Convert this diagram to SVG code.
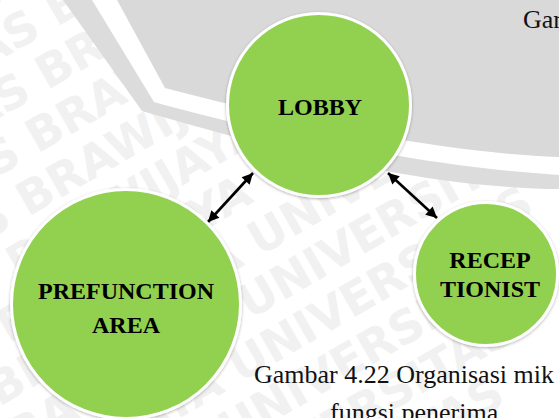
<svg xmlns="http://www.w3.org/2000/svg" width="559" height="418" viewBox="0 0 559 418">
  <style>
    .wm { font-family: "DejaVu Sans", "Liberation Sans", sans-serif; font-weight: bold; font-size: 46px; fill: #f1f1f1; }
    .node { fill: #92d050; stroke: #ffffff; stroke-width: 3; filter: url(#shadow); }
    .label { font-family: "Liberation Serif", "Times New Roman", serif; font-weight: bold; font-size: 24px; fill: #000; text-anchor: middle; }
    .caption { font-family: "Liberation Serif", "Times New Roman", serif; font-size: 26px; fill: #111; }
    .link { stroke: #000; stroke-width: 2.6; fill: none; marker-start: url(#head); marker-end: url(#head); }
  </style>
  <defs>
    <filter id="shadow" x="-10%" y="-10%" width="120%" height="120%">
      <feDropShadow dx="0" dy="1" stdDeviation="1.5" flood-color="#000" flood-opacity="0.3"/>
    </filter>
    <marker id="head" viewBox="0 0 10 10" refX="10" refY="5" markerWidth="4.6" markerHeight="4.2" orient="auto-start-reverse" markerUnits="strokeWidth">
      <path d="M0,0 L10,5 L0,10 Z" fill="#000"/>
    </marker>
  </defs>

  <rect width="559" height="418" fill="#ffffff"/>

  <!-- background watermark lettering -->
  <g id="watermark" transform="rotate(-30 280 210)">
    <text class="wm" x="-140" y="-110">UNIVERSITAS BRAWIJAYA UNIVERSITAS</text>
    <text class="wm" x="-180" y="-60">UNIVERSITAS BRAWIJAYA UNIVERSITAS</text>
    <text class="wm" x="-220" y="-10">UNIVERSITAS BRAWIJAYA UNIVERSITAS</text>
    <text class="wm" x="-260" y="40">UNIVERSITAS BRAWIJAYA UNIVERSITAS</text>
    <text class="wm" x="-300" y="90">UNIVERSITAS BRAWIJAYA UNIVERSITAS</text>
    <text class="wm" x="-340" y="140">UNIVERSITAS BRAWIJAYA UNIVERSITAS</text>
    <text class="wm" x="-380" y="190">UNIVERSITAS BRAWIJAYA UNIVERSITAS</text>
    <text class="wm" x="-420" y="240">UNIVERSITAS BRAWIJAYA UNIVERSITAS</text>
    <text class="wm" x="-460" y="290">UNIVERSITAS BRAWIJAYA UNIVERSITAS</text>
    <text class="wm" x="-500" y="340">UNIVERSITAS BRAWIJAYA UNIVERSITAS</text>
    <text class="wm" x="-540" y="390">UNIVERSITAS BRAWIJAYA UNIVERSITAS</text>
    <text class="wm" x="-580" y="440">UNIVERSITAS BRAWIJAYA UNIVERSITAS</text>
    <text class="wm" x="-620" y="490">UNIVERSITAS BRAWIJAYA UNIVERSITAS</text>
  </g>

  <!-- grey emblem bands -->
  <g id="emblem">
    <path d="M63,0 L142,111 C235,138 410,188 559,189 L559,0 Z" fill="#dcdcdc"/>
    <path d="M92,0 L154,102 C240,126 410,166 559,175 L559,0 Z" fill="#ffffff"/>
    <path d="M117,0 L165,88 C250,110 420,152 559,157 L559,0 Z" fill="#d9d9d9"/>
  </g>

  <text class="caption" x="523" y="28">Gar</text>

  <!-- connectors -->
  <g id="connectors">
    <line class="link" x1="208" y1="222" x2="253" y2="173"/>
    <line class="link" x1="388" y1="173" x2="437" y2="218"/>
  </g>

  <g id="lobby">
    <circle class="node" cx="319" cy="105" r="91.5"/>
    <text class="label" x="320" y="115">LOBBY</text>
  </g>

  <g id="prefunction-area">
    <circle class="node" cx="126" cy="304" r="114.5"/>
    <text class="label" x="126" y="299">PREFUNCTION</text>
    <text class="label" x="126" y="333">AREA</text>
  </g>

  <g id="receptionist">
    <circle class="node" cx="486" cy="274" r="71.5"/>
    <text class="label" x="490" y="268">RECEP</text>
    <text class="label" x="490" y="297">TIONIST</text>
  </g>

  <text class="caption" x="254" y="383">Gambar 4.22 Organisasi mik</text>
  <text class="caption" x="330" y="421">fungsi penerima</text>
</svg>
